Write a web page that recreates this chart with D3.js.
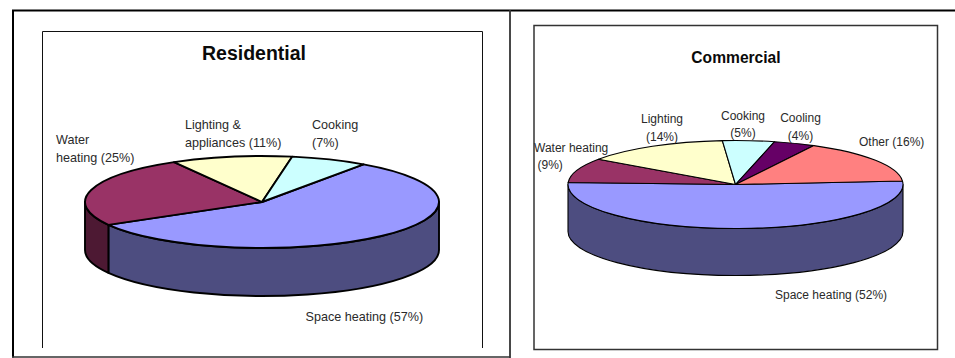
<!DOCTYPE html>
<html>
<head>
<meta charset="utf-8">
<script src="https://cdn.jsdelivr.net/npm/d3@7"></script>
<style>
  html, body { margin: 0; padding: 0; background: #fff; }
  svg { display: block; }
  text { font-family: "Liberation Sans", Arial, sans-serif; fill: #2a2a2a; }
</style>
</head>
<body>
<svg id="chart" width="955" height="358"></svg>
<script>
// End-use energy shares, in percent, in clockwise drawing order
const residentialNames = ["Space heating", "Water heating", "Lighting & appliances", "Cooking"];
const residentialValues = [57, 25, 11, 7];
const residentialColors = ["#9999ff", "#993366", "#ffffcc", "#ccffff"];
const residentialSides = ["#4d4d80", "#4d1933", "#808066", "#668080"];

const commercialNames = ["Space heating", "Water heating", "Lighting", "Cooking", "Cooling", "Other"];
const commercialValues = [52, 9, 14, 5, 4, 16];
const commercialColors = ["#9999ff", "#993366", "#ffffcc", "#ccffff", "#660066", "#ff8080"];
const commercialSides = ["#4d4d80", "#4d1933", "#808066", "#668080", "#330033", "#804040"];

const residentialLabels = [
  { lines: ["Space heating (57%)"], x: 305.5, y: 321 },
  { lines: ["Water", "heating (25%)"], x: 56, y: 144 },
  { lines: ["Lighting &", "appliances (11%)"], x: 185, y: 129 },
  { lines: ["Cooking", "(7%)"], x: 312, y: 129 }
];
const commercialLabels = [
  { lines: ["Space heating (52%)"], x: 775, y: 299 },
  { lines: ["Water heating"], x: 534, y: 152 },
  { lines: ["(9%)"], x: 537.5, y: 169 },
  { lines: ["Lighting", "(14%)"], x: 662, y: 123, anchor: "middle" },
  { lines: ["Cooking", "(5%)"], x: 743, y: 119.5, anchor: "middle" },
  { lines: ["Cooling", "(4%)"], x: 800.5, y: 122, anchor: "middle" },
  { lines: ["Other (16%)"], x: 859, y: 146 }
];

const svg = d3.select("#chart");
const TAU = 2 * Math.PI;
const deg = d => d * Math.PI / 180;

// Outer panel rules: heavy black along the top and left, softer grey along the lower and divider edges
const rules = [
  { x1: 13, y1: 10, x2: 13, y2: 357.5, color: "#000", width: 2 },
  { x1: 12, y1: 10.5, x2: 955, y2: 10.5, color: "#000", width: 1.8 },
  { x1: 12, y1: 357, x2: 510, y2: 357, color: "#333", width: 1.4 },
  { x1: 510, y1: 10, x2: 510, y2: 358, color: "#333", width: 1.8 }
];
svg.selectAll("line.rule").data(rules).join("line")
  .attr("class", "rule")
  .attr("x1", d => d.x1).attr("y1", d => d.y1)
  .attr("x2", d => d.x2).attr("y2", d => d.y2)
  .attr("stroke", d => d.color).attr("stroke-width", d => d.width);

// Residential chart box stops short of the panel floor; the commercial box is closed
svg.append("path")
  .attr("d", "M42.5,348V31.5H482.5V348")
  .attr("fill", "none").attr("stroke", "#111").attr("stroke-width", 1);
svg.append("rect")
  .attr("x", 534).attr("y", 25.5).attr("width", 403.5).attr("height", 324)
  .attr("fill", "none").attr("stroke", "#333").attr("stroke-width", 1.5);

// Draws a tilted pie: side walls first, then the top face, each slice from d3.pie angles
function tiltedPie(opts) {
  const { names, values, colors, sides, cx, cy, rx, ry, depth, start, strokeWidth } = opts;
  const pie = d3.pie().sort(null).startAngle(start).endAngle(start + TAU);
  const arcs = pie(values);
  const g = svg.append("g").attr("transform", `translate(${cx},${cy})`);

  // d3 angles run clockwise from twelve o'clock
  const px = a => rx * Math.sin(a);
  const py = a => -ry * Math.cos(a);
  const ellipseArc = (a0, a1, dy, sweep) =>
    `A${rx},${ry} 0 ${Math.abs(a1 - a0) > Math.PI ? 1 : 0} ${sweep} ${px(a1)},${py(a1) + dy}`;

  // Only the part of a slice between 3 and 9 o'clock shows a wall
  const wall = arcs.map((d, i) => {
    const offs = [-TAU, 0, TAU];
    for (const k of offs) {
      const a0 = Math.max(d.startAngle + k, Math.PI / 2);
      const a1 = Math.min(d.endAngle + k, 3 * Math.PI / 2);
      if (a1 > a0) return { a0, a1, i };
    }
    return null;
  }).filter(Boolean);

  g.selectAll("path.wall").data(wall).join("path")
    .attr("class", "wall")
    .attr("d", d => `M${px(d.a0)},${py(d.a0)}L${px(d.a0)},${py(d.a0) + depth}` +
      ellipseArc(d.a0, d.a1, depth, 1) +
      `L${px(d.a1)},${py(d.a1)}` + ellipseArc(d.a1, d.a0, 0, 0) + "Z")
    .attr("fill", d => sides[d.i])
    .attr("stroke", "#000").attr("stroke-width", strokeWidth).attr("stroke-linejoin", "round");

  g.selectAll("path.slice").data(arcs).join("path")
    .attr("class", "slice")
    .attr("d", d => `M0,0L${px(d.startAngle)},${py(d.startAngle)}` +
      ellipseArc(d.startAngle, d.endAngle, 0, 1) + "Z")
    .attr("fill", (d, i) => colors[i])
    .attr("stroke", "#000").attr("stroke-width", strokeWidth).attr("stroke-linejoin", "round")
    .append("title").text((d, i) => names[i]);
}

function labels(list, size, lineStep) {
  list.forEach(l => {
    const t = svg.append("text")
      .attr("font-size", size)
      .attr("text-anchor", l.anchor || "start");
    l.lines.forEach((s, i) => {
      t.append("tspan").attr("x", l.x).attr("y", l.y + i * lineStep).text(s);
    });
  });
}

tiltedPie({
  names: residentialNames, values: residentialValues, colors: residentialColors, sides: residentialSides,
  cx: 262, cy: 202, rx: 177, ry: 46, depth: 48, start: deg(35), strokeWidth: 1.9
});
tiltedPie({
  names: commercialNames, values: commercialValues, colors: commercialColors, sides: commercialSides,
  cx: 735.5, cy: 184.5, rx: 167.5, ry: 44, depth: 47, start: deg(85.5), strokeWidth: 1.1
});

svg.append("text").attr("x", 254).attr("y", 60).attr("text-anchor", "middle")
  .attr("font-size", 19.5).attr("font-weight", "bold").style("fill", "#0a0a0a").text("Residential");
svg.append("text").attr("x", 736).attr("y", 63).attr("text-anchor", "middle")
  .attr("font-size", 15.6).attr("font-weight", "bold").style("fill", "#0a0a0a").text("Commercial");

labels(residentialLabels, 12.6, 17.6);
labels(commercialLabels, 12, 17.5);
</script>
</body>
</html>
